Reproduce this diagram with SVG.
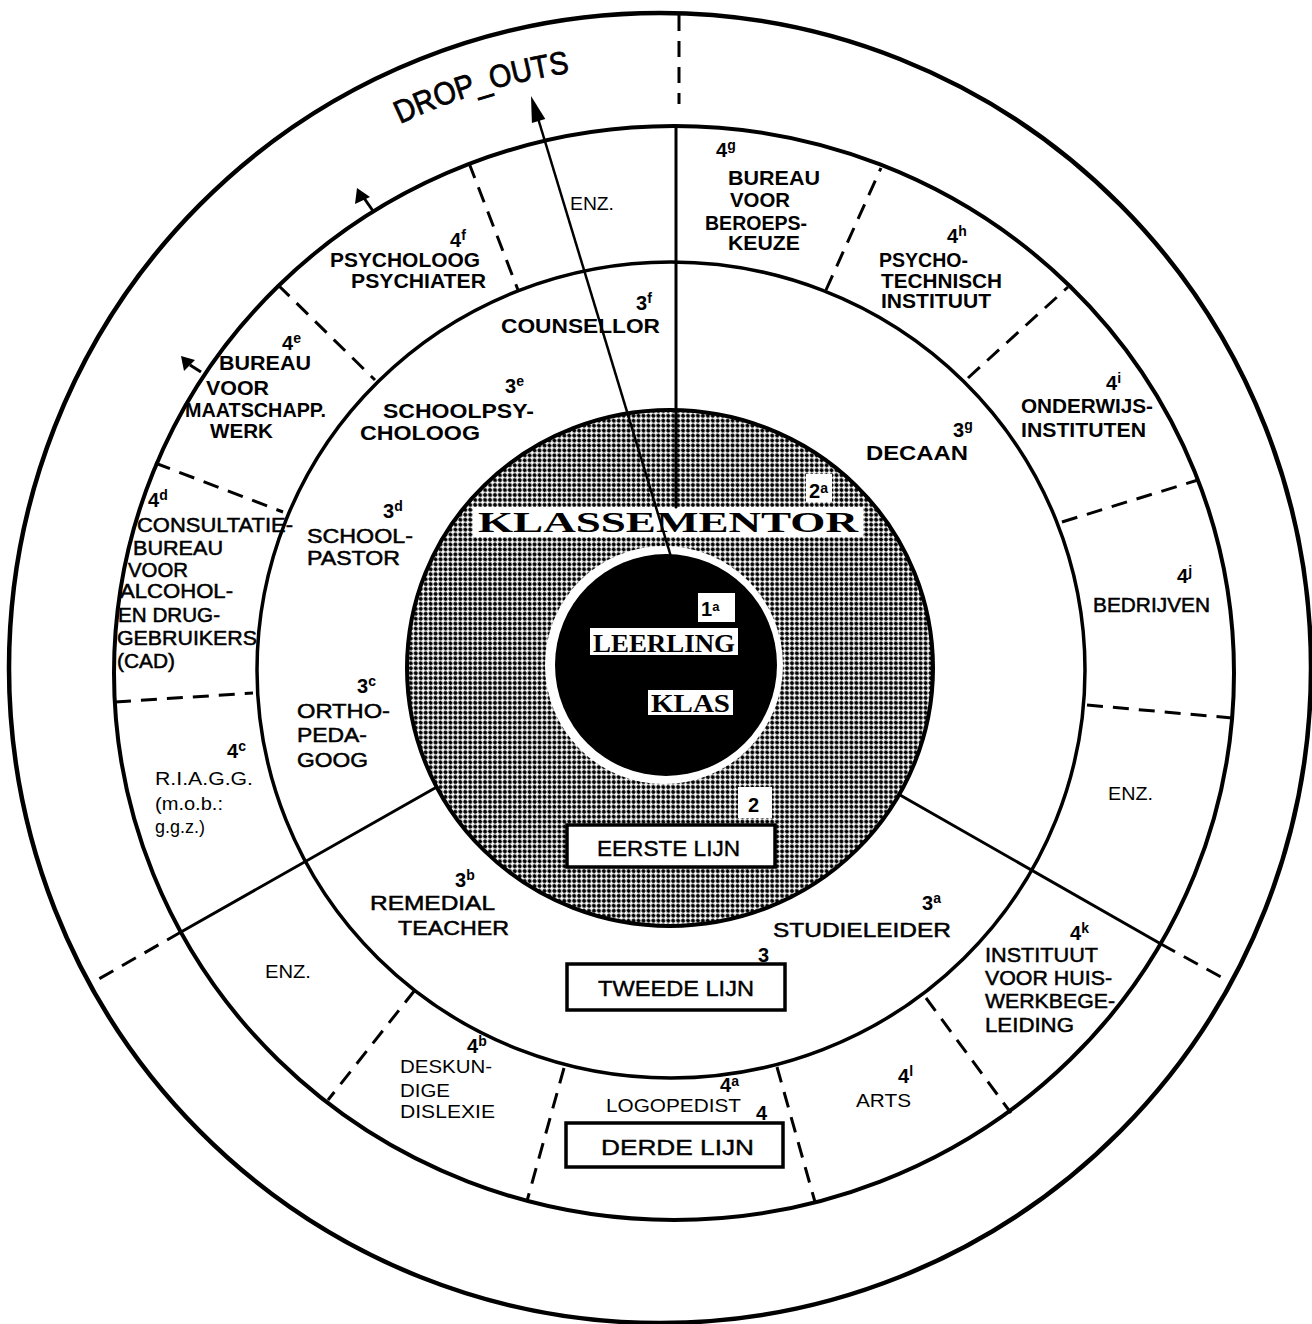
<svg xmlns="http://www.w3.org/2000/svg" width="1312" height="1324" viewBox="0 0 1312 1324">
<style>
  .ring { fill: none; stroke: #000; }
  .sol { stroke: #000; stroke-width: 3; fill: none; stroke-linecap: round; }
  .dash { stroke: #000; stroke-width: 3; fill: none; stroke-dasharray: 16 10; }
  text { font-family: "Liberation Sans", Arial, sans-serif; fill: #000; }
  .b { font-size: 20px; font-weight: bold; }
  .m { font-size: 20px; stroke: #000; stroke-width: 0.5; }
  .r { font-size: 18px; }
  .num { font-size: 20px; font-weight: bold; }
  .sup { font-size: 14px; font-weight: bold; }
  .box { fill: #fff; stroke: #000; stroke-width: 3.5; }
  .lijn { font-size: 22px; stroke: #000; stroke-width: 0.4; }
  .serif { font-family: "Liberation Serif", "Times New Roman", serif; font-weight: bold; }
</style>
<defs>
  <pattern id="dots" patternUnits="userSpaceOnUse" width="7" height="7" patternTransform="rotate(45)">
    <rect width="7" height="7" fill="#fff"/>
    <circle cx="0" cy="0" r="2.1" fill="#000"/>
    <circle cx="7" cy="0" r="2.1" fill="#000"/>
    <circle cx="0" cy="7" r="2.1" fill="#000"/>
    <circle cx="7" cy="7" r="2.1" fill="#000"/>
    <circle cx="3.5" cy="3.5" r="2.1" fill="#000"/>
  </pattern>
  <path id="dropArc" d="M 400,124 A 603 603 0 0 1 592,70"/>
</defs>
<rect width="1312" height="1324" fill="#fff"/>

<!-- rings -->
<g id="rings">
  <ellipse class="ring" cx="660" cy="668" rx="651" ry="655" stroke-width="4.5"/>
  <ellipse class="ring" cx="674" cy="673" rx="560" ry="547" stroke-width="4"/>
  <ellipse class="ring" cx="671" cy="670" rx="414" ry="408" stroke-width="3.5"/>
</g>

<g id="klassementor">
  <ellipse cx="670" cy="668" rx="263" ry="258" fill="url(#dots)" stroke="#000" stroke-width="4"/>
  <rect x="473" y="507" width="390" height="30" fill="#fff"/>
  <text class="serif" x="478" y="532" font-size="30" textLength="380" lengthAdjust="spacingAndGlyphs">KLASSEMENTOR</text>
  <rect x="806" y="474" width="26" height="28" fill="#fff"/>
  <text class="num" x="809" y="498" font-size="17">2<tspan class="sup" font-size="13" dy="-5">a</tspan></text>
</g>

<g id="leerling-klas">
  <circle cx="664" cy="665" r="119" fill="#fff"/>
  <circle cx="666" cy="665" r="111" fill="#000"/>
  <rect x="698" y="593" width="37" height="29" fill="#fff"/>
  <text class="num" x="701" y="616" font-size="18">1<tspan font-size="13" dy="-5">a</tspan></text>
  <rect x="590" y="628" width="148" height="27" fill="#fff"/>
  <text class="serif" x="593" y="652" font-size="26" textLength="142" lengthAdjust="spacingAndGlyphs">LEERLING</text>
  <rect x="648" y="690" width="85" height="25" fill="#fff"/>
  <text class="serif" x="651" y="712" font-size="25" textLength="79" lengthAdjust="spacingAndGlyphs">KLAS</text>
</g>

<!-- connectors -->
<g id="connectors">
  <line class="sol" x1="676" y1="126" x2="676" y2="507"/>
  <line class="dash" x1="679" y1="15" x2="679" y2="104"/>
  <line class="sol" x1="435" y1="788" x2="181" y2="932"/>
  <line class="dash" x1="181" y1="932" x2="90" y2="984"/>
  <line class="sol" x1="900" y1="795" x2="1161" y2="944"/>
  <line class="dash" x1="1161" y1="944" x2="1232" y2="983"/>
  <line class="dash" x1="469" y1="163" x2="518" y2="290"/>
  <line class="dash" x1="278" y1="285" x2="375" y2="380"/>
  <line class="dash" x1="155" y1="463" x2="283" y2="512"/>
  <line class="dash" x1="115" y1="702" x2="253" y2="693"/>
  <line class="dash" x1="415" y1="990" x2="328" y2="1100"/>
  <line class="dash" x1="564" y1="1068" x2="527" y2="1201"/>
  <line class="dash" x1="777" y1="1067" x2="815" y2="1202"/>
  <line class="dash" x1="926" y1="998" x2="1011" y2="1113"/>
  <line class="dash" x1="1087" y1="705" x2="1232" y2="718"/>
  <line class="dash" x1="1062" y1="522" x2="1198" y2="480"/>
  <line class="dash" x1="968" y1="378" x2="1068" y2="287"/>
  <line class="dash" x1="826" y1="290" x2="881" y2="168"/>
  <!-- drop-out arrow -->
  <line x1="672" y1="560" x2="537" y2="115" stroke="#000" stroke-width="2.5"/>
  <polygon points="531,96 545.3,119 531.9,123" fill="#000"/>
  <!-- small arrows on ring -->
  <line x1="373" y1="211" x2="364" y2="198" stroke="#000" stroke-width="3"/>
  <polygon points="357,188 355,204 370,197" fill="#000"/>
  <line x1="201" y1="372" x2="190" y2="365" stroke="#000" stroke-width="3"/>
  <polygon points="181,356 184,371 195,360" fill="#000"/>
</g>

<g id="drop-outs">
  <text font-size="32" stroke="#000" stroke-width="0.8"><textPath href="#dropArc" textLength="178" lengthAdjust="spacingAndGlyphs">DROP_OUTS</textPath></text>
</g>

<!-- ring 4 top-left -->
<g id="enz-top"><text class="r" x="570" y="210" textLength="44" lengthAdjust="spacingAndGlyphs">ENZ.</text></g>
<g id="n4f">
  <text class="num" x="450" y="247">4<tspan class="sup" dy="-7">f</tspan></text>
  <text class="b" x="330" y="267" textLength="150" lengthAdjust="spacingAndGlyphs">PSYCHOLOOG</text>
  <text class="b" x="351" y="288" textLength="135" lengthAdjust="spacingAndGlyphs">PSYCHIATER</text>
</g>
<g id="n4e">
  <text class="num" x="282" y="350">4<tspan class="sup" dy="-7">e</tspan></text>
  <text class="b" x="219" y="370" font-size="18" textLength="92" lengthAdjust="spacingAndGlyphs">BUREAU</text>
  <text class="b" x="206" y="395" font-size="18" textLength="63" lengthAdjust="spacingAndGlyphs">VOOR</text>
  <text class="b" x="185" y="417" font-size="18" textLength="141" lengthAdjust="spacingAndGlyphs">MAATSCHAPP.</text>
  <text class="b" x="210" y="438" font-size="18" textLength="63" lengthAdjust="spacingAndGlyphs">WERK</text>
</g>
<g id="n4d">
  <text class="num" x="148" y="507">4<tspan class="sup" dy="-7">d</tspan></text>
  <text class="m" x="137" y="532" textLength="156" lengthAdjust="spacingAndGlyphs">CONSULTATIE-</text>
  <text class="m" x="133" y="555" textLength="90" lengthAdjust="spacingAndGlyphs">BUREAU</text>
  <text class="m" x="128" y="577" textLength="60" lengthAdjust="spacingAndGlyphs">VOOR</text>
  <text class="m" x="120" y="598" textLength="113" lengthAdjust="spacingAndGlyphs">ALCOHOL-</text>
  <text class="m" x="118" y="622" textLength="102" lengthAdjust="spacingAndGlyphs">EN DRUG-</text>
  <text class="m" x="117" y="645" textLength="140" lengthAdjust="spacingAndGlyphs">GEBRUIKERS</text>
  <text class="m" x="117" y="668" textLength="58" lengthAdjust="spacingAndGlyphs">(CAD)</text>
</g>
<g id="n4c">
  <text class="num" x="227" y="758">4<tspan class="sup" dy="-7">c</tspan></text>
  <text class="r" x="155" y="785" textLength="98" lengthAdjust="spacingAndGlyphs">R.I.A.G.G.</text>
  <text class="r" x="155" y="810" textLength="68" lengthAdjust="spacingAndGlyphs">(m.o.b.:</text>
  <text class="r" x="155" y="833" textLength="50" lengthAdjust="spacingAndGlyphs">g.g.z.)</text>
</g>
<g id="enz-bl"><text class="r" x="265" y="978" textLength="46" lengthAdjust="spacingAndGlyphs">ENZ.</text></g>
<g id="n4b">
  <text class="num" x="467" y="1053">4<tspan class="sup" dy="-7">b</tspan></text>
  <text class="r" x="400" y="1073" textLength="92" lengthAdjust="spacingAndGlyphs">DESKUN-</text>
  <text class="r" x="400" y="1097" textLength="50" lengthAdjust="spacingAndGlyphs">DIGE</text>
  <text class="r" x="400" y="1118" textLength="95" lengthAdjust="spacingAndGlyphs">DISLEXIE</text>
</g>
<g id="n4a">
  <text class="num" x="720" y="1092" font-size="17">4<tspan class="sup" dy="-6">a</tspan></text>
  <text class="r" x="606" y="1112" textLength="135" lengthAdjust="spacingAndGlyphs">LOGOPEDIST</text>
</g>
<g id="n4l">
  <text class="num" x="898" y="1083" font-size="18">4<tspan class="sup" dy="-7">l</tspan></text>
  <text class="r" x="856" y="1107" textLength="55" lengthAdjust="spacingAndGlyphs">ARTS</text>
</g>
<g id="n4k">
  <text class="num" x="1070" y="940">4<tspan class="sup" dy="-7">k</tspan></text>
  <text class="m" x="985" y="962" textLength="113" lengthAdjust="spacingAndGlyphs">INSTITUUT</text>
  <text class="m" x="985" y="985" textLength="127" lengthAdjust="spacingAndGlyphs">VOOR HUIS-</text>
  <text class="m" x="985" y="1008" textLength="130" lengthAdjust="spacingAndGlyphs">WERKBEGE-</text>
  <text class="m" x="985" y="1032" textLength="89" lengthAdjust="spacingAndGlyphs">LEIDING</text>
</g>
<g id="enz-right"><text class="r" x="1108" y="800" textLength="45" lengthAdjust="spacingAndGlyphs">ENZ.</text></g>
<g id="n4j">
  <text class="num" x="1177" y="583">4<tspan class="sup" dy="-7">j</tspan></text>
  <text class="m" x="1093" y="612" textLength="117" lengthAdjust="spacingAndGlyphs">BEDRIJVEN</text>
</g>
<g id="n4i">
  <text class="num" x="1106" y="390">4<tspan class="sup" dy="-7">i</tspan></text>
  <text class="b" x="1021" y="413" textLength="132" lengthAdjust="spacingAndGlyphs">ONDERWIJS-</text>
  <text class="b" x="1021" y="437" textLength="125" lengthAdjust="spacingAndGlyphs">INSTITUTEN</text>
</g>
<g id="n4h">
  <text class="num" x="947" y="243">4<tspan class="sup" dy="-7">h</tspan></text>
  <text class="b" x="879" y="267" textLength="89" lengthAdjust="spacingAndGlyphs">PSYCHO-</text>
  <text class="b" x="881" y="288" textLength="121" lengthAdjust="spacingAndGlyphs">TECHNISCH</text>
  <text class="b" x="881" y="308" textLength="110" lengthAdjust="spacingAndGlyphs">INSTITUUT</text>
</g>
<g id="n4g">
  <text class="num" x="716" y="157">4<tspan class="sup" dy="-7">g</tspan></text>
  <text class="b" x="728" y="185" textLength="92" lengthAdjust="spacingAndGlyphs">BUREAU</text>
  <text class="b" x="730" y="207" textLength="60" lengthAdjust="spacingAndGlyphs">VOOR</text>
  <text class="b" x="705" y="230" textLength="102" lengthAdjust="spacingAndGlyphs">BEROEPS-</text>
  <text class="b" x="728" y="250" textLength="72" lengthAdjust="spacingAndGlyphs">KEUZE</text>
</g>

<!-- ring 3 -->
<g id="n3f">
  <text class="num" x="636" y="310">3<tspan class="sup" dy="-7">f</tspan></text>
  <text class="b" x="501" y="333" textLength="159" lengthAdjust="spacingAndGlyphs">COUNSELLOR</text>
</g>
<g id="n3e">
  <text class="num" x="505" y="393">3<tspan class="sup" dy="-7">e</tspan></text>
  <text class="b" x="383" y="418" textLength="151" lengthAdjust="spacingAndGlyphs">SCHOOLPSY-</text>
  <text class="b" x="360" y="440" textLength="120" lengthAdjust="spacingAndGlyphs">CHOLOOG</text>
</g>
<g id="n3d">
  <text class="num" x="383" y="518">3<tspan class="sup" dy="-7">d</tspan></text>
  <text class="m" x="307" y="543" textLength="106" lengthAdjust="spacingAndGlyphs">SCHOOL-</text>
  <text class="m" x="307" y="565" textLength="93" lengthAdjust="spacingAndGlyphs">PASTOR</text>
</g>
<g id="n3c">
  <text class="num" x="357" y="693">3<tspan class="sup" dy="-7">c</tspan></text>
  <text class="m" x="297" y="718" textLength="93" lengthAdjust="spacingAndGlyphs">ORTHO-</text>
  <text class="m" x="297" y="742" textLength="70" lengthAdjust="spacingAndGlyphs">PEDA-</text>
  <text class="m" x="297" y="767" textLength="71" lengthAdjust="spacingAndGlyphs">GOOG</text>
</g>
<g id="n3b">
  <text class="num" x="455" y="887">3<tspan class="sup" dy="-7">b</tspan></text>
  <text class="m" x="370" y="910" textLength="125" lengthAdjust="spacingAndGlyphs">REMEDIAL</text>
  <text class="m" x="398" y="935" textLength="111" lengthAdjust="spacingAndGlyphs">TEACHER</text>
</g>
<g id="n3a">
  <text class="num" x="922" y="910">3<tspan class="sup" dy="-7">a</tspan></text>
  <text class="m" x="773" y="937" textLength="178" lengthAdjust="spacingAndGlyphs">STUDIELEIDER</text>
</g>
<g id="n3g">
  <text class="num" x="953" y="437">3<tspan class="sup" dy="-7">g</tspan></text>
  <text class="b" x="866" y="460" textLength="102" lengthAdjust="spacingAndGlyphs">DECAAN</text>
</g>

<!-- line boxes -->
<g id="eerste-lijn">
  <rect x="738" y="787" width="34" height="31" fill="#fff"/>
  <text class="num" x="748" y="812" font-size="24">2</text>
  <rect class="box" x="567" y="825" width="208" height="42"/>
  <text class="lijn" x="597" y="856" textLength="143" lengthAdjust="spacingAndGlyphs">EERSTE LIJN</text>
</g>
<g id="tweede-lijn">
  <text class="num" x="758" y="962" font-size="24">3</text>
  <rect class="box" x="567" y="964" width="218" height="46"/>
  <text class="lijn" x="598" y="996" textLength="156" lengthAdjust="spacingAndGlyphs">TWEEDE LIJN</text>
</g>
<g id="derde-lijn">
  <text class="num" x="756" y="1120" font-size="22">4</text>
  <rect class="box" x="566" y="1123" width="217" height="44"/>
  <text class="lijn" x="601" y="1155" textLength="153" lengthAdjust="spacingAndGlyphs">DERDE LIJN</text>
</g>
</svg>
